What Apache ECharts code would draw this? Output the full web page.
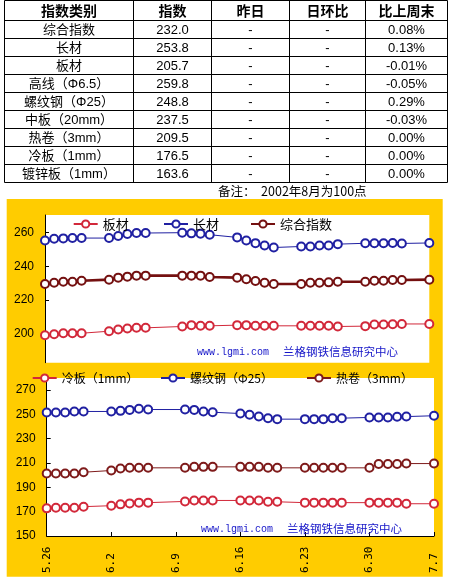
<!DOCTYPE html>
<html><head><meta charset="utf-8">
<script src="https://cdn.jsdelivr.net/npm/echarts@6/dist/echarts.min.js"></script>
<style>html,body{margin:0;padding:0;background:#fff}#c{width:453px;height:584px}</style>
</head><body><div id="c"></div>
<script>
// ---------- data ----------
const categories = ['5.26','5.27','5.28','5.29','5.30','5.31','6.1','6.2','6.3','6.4','6.5','6.6','6.7','6.8','6.9',
  '6.10','6.11','6.12','6.13','6.14','6.15','6.16','6.17','6.18','6.19','6.20','6.21','6.22','6.23','6.24','6.25',
  '6.26','6.27','6.28','6.29','6.30','7.1','7.2','7.3','7.4','7.5','7.6','7.7'];
const tradeDays = ['5.26','5.27','5.28','5.29','5.30','6.2','6.3','6.4','6.5','6.6','6.10','6.11','6.12','6.13',
  '6.16','6.17','6.18','6.19','6.20','6.23','6.24','6.25','6.26','6.27','6.30','7.1','7.2','7.3','7.4','7.7'];

const tableHeader = ['指数类别','指数','昨日','日环比','比上周末'];
const tableNames = ['综合指数','长材','板材','高线（Φ6.5）','螺纹钢（Φ25）','中板（20mm）','热卷（3mm）','冷板（1mm）','镀锌板（1mm）'];
const tableIndex = ['232.0','253.8','205.7','259.8','248.8','237.5','209.5','176.5','163.6'];
const tableYesterday = ['-','-','-','-','-','-','-','-','-'];
const tableDayRatio = ['-','-','-','-','-','-','-','-','-'];
const tableWeekRatio = ['0.08%','0.13%','-0.01%','-0.05%','0.29%','-0.03%','0.00%','0.00%','0.00%'];
const noteText = '备注：  2002年8月为100点';
const watermarkUrl = 'www.lgmi.com';
const watermarkOrg = '兰格钢铁信息研究中心';

const topNames = ['板材','长材','综合指数'];
const banCai = [199.0,199.6,200.2,200.2,200.2, 201.4,202.4,203.0,203.4,203.4, 204.2,205.0,204.6,204.6,
  205.0,205.0,204.6,204.6,204.6, 204.6,204.6,204.6,204.6,204.2, 204.4,205.4,205.4,205.5,205.7, 205.7];
const changCai = [255.3,256.3,256.5,256.7,256.7, 256.7,257.9,259.1,259.7,259.7, 259.9,259.5,259.3,258.7,
  257.1,255.3,253.7,252.3,251.1, 251.7,251.7,252.3,252.3,253.1, 253.6,253.6,253.6,253.8,253.5, 253.8];
const zongHe = [229.4,230.2,230.8,230.8,231.4, 232.0,233.2,233.8,234.4,234.4, 234.4,234.4,234.4,233.6,
  233.2,232.2,231.2,230.2,229.4, 229.4,230.2,230.2,230.4,230.8, 230.8,231.4,231.4,231.8,231.8, 232.0];
const topTicks = [200,220,240,260];

const bottomNames = ['冷板（1mm）','螺纹钢（Φ25）','热卷（3mm）'];
const lengBan = [172.7,173.2,173.2,173.2,174.1, 174.9,176.0,176.8,177.4,177.4, 178.4,179.2,179.2,179.2,
  179.2,179.2,179.2,178.1,178.1, 177.4,177.4,177.4,177.4,177.4, 177.4,177.4,177.4,177.4,176.5, 176.5];
const luoWenGang = [251.4,251.4,251.4,252.3,252.3, 252.3,252.8,253.6,254.5,253.9, 253.9,253.6,252.3,251.7,
  250.6,249.6,248.2,246.8,246.0, 246.0,246.0,246.0,246.8,246.8, 247.4,247.4,247.4,248.0,248.1, 248.8];
const reJuan = [201.3,201.3,201.3,201.3,202.4, 203.8,205.4,206.0,206.0,206.0, 206.0,206.8,206.8,206.8,
  206.8,206.8,206.8,206.0,206.0, 206.0,206.0,206.0,206.0,206.0, 206.0,209.2,209.2,209.2,209.5, 209.5];
const bottomTicks = [150,170,190,210,230,250,270];

// ---------- layout / style ----------
const RED = '#D2283A', BLUE = '#2020A2', MAROON = '#741010', MAROON2 = '#7E1A1A';
const YELLOW = '#FFCC00';
const CJK = '"Noto Sans CJK SC"';
const colX = [4.5, 133.5, 211.5, 289.5, 365.5, 447.5];
const rowY = [0.5, 20.5];
for (let i = 0; i < tableNames.length; i++) rowY.push(20.5 + 18 * (i + 1));

const chart = echarts.init(document.getElementById('c'), null, {renderer: 'canvas'});
const pts = vals => tradeDays.map((d, i) => [d, vals[i]]);

const graphic = [];
graphic.push({type: 'rect', z: -10, shape: {x: 6.7, y: 199, width: 436, height: 377.7}, style: {fill: YELLOW}, silent: true});
// table grid lines
rowY.forEach(y => graphic.push({type: 'line', shape: {x1: colX[0], y1: y, x2: colX[colX.length - 1], y2: y}, style: {stroke: '#000', lineWidth: 1}, silent: true}));
colX.forEach(x => graphic.push({type: 'line', shape: {x1: x, y1: rowY[0], x2: x, y2: rowY[rowY.length - 1]}, style: {stroke: '#000', lineWidth: 1}, silent: true}));
const colCenter = i => (colX[i] + colX[i + 1]) / 2;
tableHeader.forEach((t, i) => graphic.push({type: 'text', x: colCenter(i), y: (rowY[0] + rowY[1]) / 2 + 0.5,
  style: {text: t, font: 'bold 14px ' + CJK, fill: '#000', textAlign: 'center', textVerticalAlign: 'middle'}, silent: true}));
const cols = [tableNames, tableIndex, tableYesterday, tableDayRatio, tableWeekRatio];
cols.forEach((col, ci) => col.forEach((t, ri) => graphic.push({type: 'text', x: colCenter(ci), y: (rowY[ri + 1] + rowY[ri + 2]) / 2 + 0.5,
  style: {text: t, font: '13px "Liberation Sans", ' + CJK, fill: '#000', textAlign: 'center', textVerticalAlign: 'middle'}, silent: true})));
graphic.push({type: 'text', x: 218, y: 191, style: {text: noteText, font: '12.5px ' + CJK, fill: '#000', textAlign: 'left', textVerticalAlign: 'middle'}, silent: true});
// watermarks
[[197, 352], [201, 529]].forEach(([x, y]) => {
  graphic.push({type: 'text', z: 5, x: x, y: y, style: {text: watermarkUrl, font: '10px "Liberation Mono"', fill: '#1414C8', textAlign: 'left', textVerticalAlign: 'middle'}, silent: true});
  graphic.push({type: 'text', z: 5, x: x + 86, y: y, style: {text: watermarkOrg, font: '11.5px ' + CJK, fill: '#1414C8', textAlign: 'left', textVerticalAlign: 'middle'}, silent: true});
});

const legendCommon = {orient: 'horizontal', padding: 0, itemGap: 0, itemWidth: 24, itemHeight: 9, selectedMode: false,
  itemStyle: {borderWidth: 1}};
const mkLegend = (name, left, top, fs) => Object.assign({data: [name], left: left, top: top,
  textStyle: {fontSize: fs, color: '#000', fontFamily: CJK}}, legendCommon);
const legend = [
  mkLegend(topNames[0], 72.7, 217.5, 13),
  mkLegend(topNames[1], 163, 217.5, 13),
  mkLegend(topNames[2], 250, 217.5, 13),
  mkLegend(bottomNames[0], 31.7, 372, 12),
  mkLegend(bottomNames[1], 160, 372, 12),
  mkLegend(bottomNames[2], 306, 372, 12)
];

function lineSeries(name, vals, color, width, grid) {
  return {type: 'line', name: name, xAxisIndex: grid, yAxisIndex: grid, data: pts(vals),
    symbol: 'emptyCircle', symbolSize: 8, showAllSymbol: true, clip: false,
    lineStyle: {color: color, width: width}, itemStyle: {color: color, borderColor: color, borderWidth: 1},
    emphasis: {disabled: true}, animation: false};
}

const yAxisCommon = {
  type: 'value', splitLine: {show: false},
  axisLine: {show: true, lineStyle: {color: '#000', width: 1}},
  axisLabel: {margin: 11, color: '#000', fontSize: 12, fontFamily: '"Liberation Sans"'}
};

chart.setOption({
  backgroundColor: '#fff',
  animation: false,
  graphic: graphic,
  legend: legend,
  grid: [
    {left: 45, top: 215, width: 384.3, height: 147.7, show: true, backgroundColor: '#fff', borderWidth: 0},
    {left: 46.7, top: 378, width: 387.3, height: 158, show: true, backgroundColor: '#fff', borderWidth: 0}
  ],
  xAxis: [
    {type: 'category', gridIndex: 0, data: categories, boundaryGap: false, show: false},
    {type: 'category', gridIndex: 1, data: categories, boundaryGap: false,
      axisLine: {show: true, lineStyle: {color: '#000', width: 1}},
      axisTick: {show: true, inside: true, length: 4, interval: 6, lineStyle: {color: '#000'}},
      axisLabel: {interval: 6, rotate: 90, align: 'left', verticalAlign: 'middle', margin: 37,
        fontFamily: '"DejaVu Sans Mono"', fontSize: 11, color: '#000'},
      splitLine: {show: false}}
  ],
  yAxis: [
    Object.assign({}, yAxisCommon, {gridIndex: 0, min: 182.7, max: 270.4,
      axisTick: {show: true, inside: true, length: 4, customValues: topTicks, lineStyle: {color: '#000'}},
      axisLabel: Object.assign({}, yAxisCommon.axisLabel, {customValues: topTicks})}),
    Object.assign({}, yAxisCommon, {gridIndex: 1, min: 150, max: 279.8,
      axisTick: {show: true, inside: true, length: 4, customValues: bottomTicks, lineStyle: {color: '#000'}},
      axisLabel: Object.assign({}, yAxisCommon.axisLabel, {customValues: bottomTicks})})
  ],
  series: [
    lineSeries(topNames[0], banCai, RED, 1, 0),
    lineSeries(topNames[1], changCai, BLUE, 1, 0),
    lineSeries(topNames[2], zongHe, MAROON, 2.6, 0),
    lineSeries(bottomNames[0], lengBan, RED, 1, 1),
    lineSeries(bottomNames[1], luoWenGang, BLUE, 1, 1),
    lineSeries(bottomNames[2], reJuan, MAROON2, 1, 1)
  ]
});
</script></body></html>
